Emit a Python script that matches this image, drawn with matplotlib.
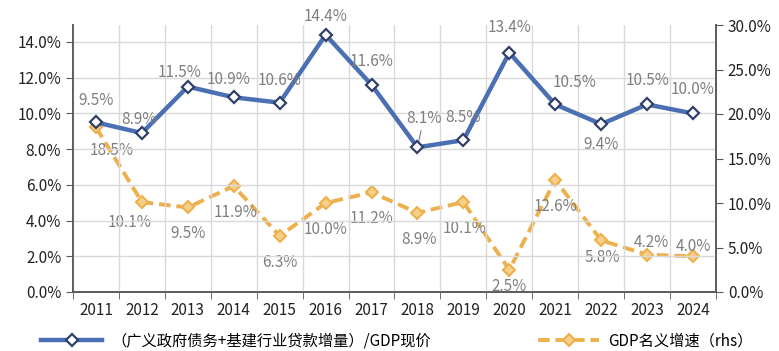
import numpy as np
import matplotlib
matplotlib.use('Agg')
import matplotlib.pyplot as plt
from matplotlib.ticker import FuncFormatter

plt.rcParams['font.family'] = ['Noto Sans CJK SC', 'DejaVu Sans']

# data
years = [2011, 2012, 2013, 2014, 2015, 2016, 2017,
         2018, 2019, 2020, 2021, 2022, 2023, 2024]
debt_ratio = [9.5, 8.9, 11.5, 10.9, 10.6, 14.4, 11.6,
              8.1, 8.5, 13.4, 10.5, 9.4, 10.5, 10.0]
gdp_growth = [18.5, 10.1, 9.5, 11.9, 6.3, 10.0, 11.2,
              8.9, 10.1, 2.5, 12.6, 5.8, 4.2, 4.0]
name_debt = '（广义政府债务+基建行业贷款增量）/GDP现价'
name_gdp = 'GDP名义增速（rhs）'

blue = '#4a6fb3'
orange = '#eeb04c'
gray = '#7f7f7f'
axcol = '#595959'

fig = plt.figure(figsize=(7.79, 3.51), dpi=100)
ax = fig.add_axes([73/779, 59/351, 643/779, 267/351])
ax2 = ax.twinx()

x = np.arange(len(years))

# grid
ax.set_xlim(-0.5, len(years) - 0.5)
ax.set_ylim(0, 14.95)
ax2.set_ylim(0, 29.9)
ax.set_yticks(np.arange(0, 15, 2))
ax2.set_yticks(np.arange(0, 31, 5))
ax.yaxis.set_major_formatter(FuncFormatter(lambda v, p: '%.1f%%' % v))
ax2.yaxis.set_major_formatter(FuncFormatter(lambda v, p: '%.1f%%' % v))
ax.set_xticks(x)
ax.set_xticklabels([str(y) for y in years])
ax.set_xticks(np.arange(-0.5, len(years), 1), minor=True)
ax.grid(True, which='minor', axis='x', color='#d9d9d9', lw=1)
ax.grid(True, which='major', axis='y', color='#d9d9d9', lw=1)
ax.set_axisbelow(True)
ax.tick_params(axis='x', which='major', length=0, pad=7, labelsize=11, colors='#222222')
ax.tick_params(axis='x', which='minor', length=5, color=axcol)
ax.tick_params(axis='y', length=5, color=axcol, labelsize=11, labelcolor='#222222')
ax2.tick_params(axis='y', length=5, color=axcol, labelsize=11, labelcolor='#222222')

for a in (ax, ax2):
    a.spines['top'].set_visible(False)
    for s in ('left', 'right', 'bottom'):
        a.spines[s].set_color(axcol)
        a.spines[s].set_linewidth(1.2)

# lines
l2, = ax2.plot(x, gdp_growth, color=orange, lw=2.8, dashes=(3, 1.5),
               marker='D', ms=6, mfc='#f6cf8a', mec=orange, mew=1.5,
               label=name_gdp, zorder=3)
l1, = ax.plot(x, debt_ratio, color=blue, lw=3.2, marker='D', ms=6,
              mfc='white', mec='#2f3f66', mew=1.6, label=name_debt, zorder=4)
ax.set_zorder(ax2.get_zorder() + 1)
ax.patch.set_visible(False)

# data labels (offsets in points)
debt_off = [(0, 16), (-2, 10), (-6, 10), (-4, 13), (0, 16), (0, 13), (0, 17),
            (5, 21), (0, 16), (0, 18), (14, 16), (0, -15), (0, 17), (0, 17)]
gdp_off = [(11, -17), (-9, -15), (0, -19), (1, -19), (0, -19), (0, -19), (0, -19),
           (1, -19), (1, -19), (0, -12), (0, -19), (1, -12), (3, 9), (0, 7)]

for i in range(len(years)):
    ax.annotate('%.1f%%' % debt_ratio[i], (x[i], debt_ratio[i]),
                xytext=debt_off[i], textcoords='offset points',
                ha='center', va='center', fontsize=11, color=gray,
                zorder=5)
    ax2.annotate('%.1f%%' % gdp_growth[i], (x[i], gdp_growth[i]),
                 xytext=gdp_off[i], textcoords='offset points',
                 ha='center', va='center', fontsize=11, color=gray)

# leader line for 2018
ax.annotate('', (x[7], debt_ratio[7]), xytext=(3, 14), textcoords='offset points',
            arrowprops=dict(arrowstyle='-', color=gray, lw=0.8))

fig.legend([l1, l2], [name_debt, name_gdp], loc='lower left',
           bbox_to_anchor=(0.035, -0.035), ncol=2, frameon=False,
           fontsize=11, handlelength=4, handletextpad=0.6, columnspacing=7)

fig.savefig('out.png', dpi=100)
